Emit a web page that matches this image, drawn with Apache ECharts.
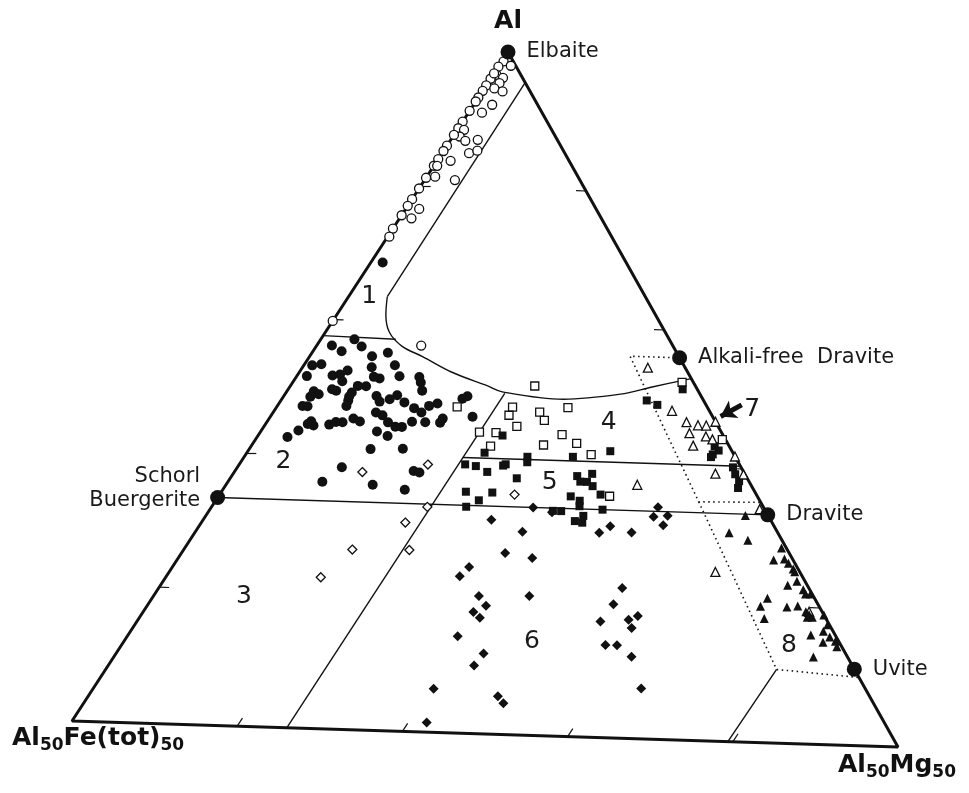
<!DOCTYPE html>
<html>
<head>
<meta charset="utf-8">
<script src="https://cdn.jsdelivr.net/npm/echarts/dist/echarts.min.js"></script>
<style>
    html, body { margin: 0; background: #fff; }
    #chart { width: 969px; height: 793px; }
</style>
</head>
<body>
<div id="chart"></div>
<script>
// every composition is [Al, Fe(tot), Mg], molar %, Al >= 50
var endMembers = ["Elbaite", "Alkali-free  Dravite", "Dravite", "Uvite", "Schorl\nBuergerite"];
var endMemberComp = [[100, 0, 0], [78, 0, 22], [66.7, 0, 33.3], [55.6, 0, 44.4], [66.7, 33.3, 0]];

var fieldNames = ["1", "2", "3", "4", "5", "6", "7", "8"];
var fieldLabelComp = [[81.8, 17.0, 1.2], [69.5, 28.0, 2.5], [59.5, 35.1, 5.4], [73.1, 6.6, 20.3],
    [68.6, 12.3, 19.1], [56.9, 18.9, 24.2], [74.4, -2.7, 28.3], [57.2, 3.2, 39.6]];

var sideTicks = [60, 70, 80, 90];   // Al on both sides
var baseTicks = [10, 20, 30, 40];   // Mg along the base

var openCircles = [[99.3, 0.6, 0.1], [99.0, 0.3, 0.7], [98.9, 1.1, 0], [98.3, 1.5, 0.2], [98.1, 1.2, 0.7],
    [98.0, 2.0, 0], [98.4, 1.6, 0], [97.7, 1.6, 0.7], [97.5, 2.5, 0], [97.3, 2.1, 0.6], [97.1, 1.7, 1.2],
    [97.1, 2.9, 0], [96.6, 3.4, 0], [95.5, 3.7, 0.8], [96.1, 2.8, 1.1], [96.3, 3.7, 0], [95.6, 4.4, 0],
    [94.8, 5.2, 0], [94.3, 5.7, 0], [94.2, 5.4, 0.4], [93.7, 5.9, 0.4], [93.4, 5.7, 0.9], [93.5, 4.9, 1.6],
    [93.8, 6.2, 0], [93.0, 7.0, 0], [92.6, 7.4, 0], [92.0, 8.0, 0], [91.5, 8.5, 0], [91.5, 8.3, 0.2],
    [91.9, 7.3, 0.8], [92.5, 5.9, 1.6], [92.7, 5.3, 2.0], [90.6, 9.4, 0], [90.7, 8.8, 0.5], [90.5, 7.7, 1.8],
    [89.8, 10.2, 0], [89.0, 11.0, 0], [88.5, 11.5, 0], [87.8, 12.2, 0], [87.6, 11.7, 0.7], [88.3, 10.9, 0.8],
    [86.8, 13.2, 0], [86.2, 13.7, 0.1], [79.9, 20.1, 0], [78.3, 15.5, 6.2]];

var filledCircles = [[84.3, 15.0, 0.7], [78.1, 21.0, 0.9], [77.7, 20.6, 1.7], [78.6, 19.4, 2.0], [78.1, 19.2, 2.7],
    [77.4, 18.9, 3.7], [77.7, 17.8, 4.5], [76.8, 17.8, 5.4], [76.0, 17.9, 6.1], [76.6, 22.9, 0.5],
    [76.7, 22.3, 1.0], [75.8, 23.6, 0.6], [75.9, 22.0, 2.1], [76.0, 21.5, 2.5], [76.3, 20.9, 2.8],
    [75.5, 21.6, 2.9], [76.6, 19.3, 4.1], [75.9, 19.5, 4.6], [75.8, 19.2, 5.0], [75.6, 16.8, 7.6],
    [75.0, 17.0, 8.0], [76.0, 16.7, 7.3], [75.2, 20.3, 4.5], [75.2, 20.8, 4.0], [74.7, 21.4, 3.9],
    [74.9, 22.5, 2.6], [74.8, 22.3, 2.9], [74.7, 23.7, 1.6], [74.5, 23.5, 2.0], [74.3, 24.1, 1.6],
    [73.6, 24.9, 1.5], [73.6, 24.6, 1.8], [74.1, 21.9, 4.0], [73.7, 22.2, 4.1], [74.4, 21.7, 3.9],
    [74.5, 20.0, 5.5], [74.1, 20.0, 5.9], [74.6, 18.7, 6.7], [74.3, 19.3, 6.4], [74.1, 18.5, 7.4],
    [73.3, 20.6, 6.1], [73.1, 20.3, 6.6], [72.6, 20.2, 7.2], [72.3, 19.9, 7.8], [72.3, 19.5, 8.2],
    [72.7, 18.7, 8.6], [73.7, 18.1, 8.2], [73.4, 17.8, 8.8], [73.9, 17.1, 9.0], [74.1, 16.5, 9.4],
    [72.7, 17.9, 9.4], [72.7, 17.0, 10.3], [73.0, 16.7, 10.3], [74.7, 14.4, 10.9], [74.5, 14.8, 10.7],
    [73.2, 14.8, 12.0], [72.5, 24.9, 2.6], [72.2, 24.9, 2.9], [72.3, 25.2, 2.5], [71.8, 26.0, 2.2],
    [71.3, 26.9, 1.8], [72.3, 23.9, 3.8], [72.5, 23.4, 4.1], [72.5, 23.0, 4.5], [72.8, 22.2, 5.0],
    [72.6, 21.9, 5.5], [71.9, 21.2, 6.9], [71.6, 20.7, 7.7], [70.6, 22.2, 7.2], [70.7, 20.2, 9.1],
    [69.2, 24.6, 6.2], [68.1, 26.3, 5.6], [68.0, 23.3, 8.7], [67.7, 21.5, 10.8], [69.1, 20.3, 10.6],
    [69.0, 20.0, 11.0]];

var openSquares = [[75.6, 9.9, 14.5], [74.1, 8.6, 17.3], [73.7, 10.5, 15.8], [73.1, 10.5, 16.4], [74.0, 12.0, 14.0],
    [72.6, 12.4, 15.0], [72.1, 14.9, 13.0], [72.1, 13.9, 14.0], [72.1, 9.9, 18.0], [71.3, 11.4, 17.3],
    [71.5, 9.3, 19.2], [70.7, 8.8, 20.5], [71.1, 14.7, 14.2], [67.7, 9.1, 23.2], [73.9, 15.4, 10.7],
    [72.1, 0.2, 27.7], [76.2, 0.7, 23.1], [73.4, 12.5, 14.1]];

var filledSquares = [[71.9, 13.6, 14.5], [70.6, 15.3, 14.1], [70.4, 12.8, 16.8], [70.0, 13.0, 17.0], [70.5, 10.0, 19.5],
    [71.0, 7.5, 21.5], [69.7, 16.9, 13.4], [69.6, 16.3, 14.1], [69.2, 15.8, 15.0], [69.7, 14.6, 15.7],
    [69.8, 14.4, 15.8], [68.8, 14.2, 17.0], [69.1, 10.4, 20.5], [68.7, 10.4, 20.9], [69.3, 9.4, 21.3],
    [68.7, 10.0, 21.3], [68.4, 9.8, 21.8], [67.8, 9.6, 22.6], [67.6, 11.5, 20.9], [67.3, 11.1, 21.6],
    [67.7, 17.8, 14.5], [67.1, 17.3, 15.6], [67.7, 16.2, 16.1], [66.6, 18.3, 15.1], [66.5, 12.6, 20.9],
    [66.5, 13.1, 20.4], [66.7, 10.0, 23.3], [65.8, 12.1, 22.1], [66.2, 11.4, 22.4], [65.7, 11.7, 22.6],
    [74.8, 3.5, 21.7], [74.5, 3.0, 22.5], [75.7, 0.9, 23.4], [71.6, 0.9, 27.5], [71.0, 1.3, 27.7],
    [70.8, 1.5, 27.7], [71.3, 0.8, 27.9], [70.1, 0.5, 29.4], [69.6, 0.6, 29.8], [69.1, 0.6, 30.3],
    [68.6, 0.9, 30.5], [66.9, 11.3, 21.8]];

var openDiamonds = [[68.9, 23.5, 7.6], [69.6, 19.2, 11.2], [66.5, 20.7, 12.8], [65.3, 22.6, 12.1],
    [63.3, 23.3, 13.4], [63.2, 26.8, 10.0], [61.1, 29.7, 9.2], [67.6, 14.9, 17.5]];

var filledDiamonds = [[65.7, 17.2, 17.1], [64.9, 15.7, 19.4], [66.7, 14.2, 19.1], [66.4, 13.2, 20.4], [65.0, 11.0, 24.0],
    [65.5, 10.1, 24.4], [65.1, 9.0, 25.9], [67.0, 6.5, 26.5], [66.4, 6.2, 27.4], [66.3, 7.1, 26.6],
    [65.7, 6.8, 27.5], [63.3, 17.5, 19.2], [63.0, 16.0, 21.0], [62.2, 20.2, 17.6], [61.5, 21.1, 17.4],
    [60.2, 17.5, 22.3], [60.1, 20.6, 19.3], [59.4, 20.5, 20.1], [58.9, 21.5, 19.6], [58.5, 21.3, 20.2],
    [57.1, 23.3, 19.6], [55.9, 22.3, 21.8], [55.0, 23.3, 21.7], [53.2, 26.6, 20.2], [52.8, 22.9, 24.3],
    [52.3, 22.8, 24.9], [50.7, 28.2, 21.1], [61.0, 11.5, 27.5], [59.8, 12.6, 27.6], [58.5, 14.0, 27.5],
    [58.7, 12.2, 29.1], [59.0, 11.5, 29.5], [58.1, 12.3, 29.6], [56.8, 14.5, 28.7], [56.8, 13.8, 29.4],
    [56.0, 13.3, 30.7], [53.7, 13.8, 32.5]];

var openTriangles = [[77.2, 2.3, 20.5], [74.1, 2.3, 23.6], [73.3, 1.8, 24.9], [73.1, 1.2, 25.7], [73.1, 0.7, 26.2],
    [73.4, 0, 26.6], [72.5, 2.0, 25.5], [72.3, 1.1, 26.6], [71.6, 2.2, 26.2], [72.1, 0.8, 27.1],
    [70.9, 0, 29.1], [69.6, 1.8, 28.6], [68.6, 7.0, 24.4], [69.6, 0.1, 30.3], [67.1, 0.3, 32.6],
    [62.4, 5.2, 32.4], [59.7, 0.8, 39.5]];

var filledTriangles = [[66.6, 1.4, 32.0], [65.3, 3.0, 31.7], [64.8, 2.1, 33.1], [64.3, 0.3, 35.4], [63.4, 1.2, 35.4],
    [63.5, 0.5, 36.0], [63.2, 0.4, 36.4], [62.8, 0.3, 36.9], [62.6, 0.3, 37.1], [61.6, 1.2, 37.2],
    [61.9, 0.5, 37.6], [61.3, 0.4, 38.3], [61.0, 0.4, 38.6], [61.0, 0.1, 38.9], [60.6, 2.9, 36.5],
    [60.0, 3.6, 36.4], [59.1, 3.8, 37.1], [60.0, 2.0, 38.0], [60.1, 1.3, 38.6], [59.7, 1.0, 39.3],
    [59.5, 0.9, 39.6], [59.3, 0.8, 39.9], [59.3, 1.1, 39.6], [59.5, 0, 40.5], [58.8, 0.1, 41.1],
    [58.3, 0.6, 41.1], [57.9, 0.4, 41.7], [57.5, 1.0, 41.5], [57.6, 0.2, 42.2], [57.2, 0.3, 42.5],
    [58.0, 1.5, 40.5], [56.4, 2.1, 41.5]];

// field boundaries
var field1Line = [[97.8, 0, 2.2], [81.8, 15.9, 2.3]];
var field1Curve = [[81.8, 15.9, 2.3], [80.5, 16.6, 2.9], [79.2, 17.0, 3.8], [78.2, 16.7, 5.1], [77.5, 15.8, 6.7],
    [76.4, 14.5, 9.1], [75.5, 12.8, 11.7], [75.1, 12.1, 12.8], [74.7, 8.6, 16.7], [75.2, 4.9, 19.9],
    [75.8, 2.7, 21.5], [76.5, 0, 23.5]];
var line12 = [[78.8, 21.2, 0], [78.7, 16.85, 4.45]];
var lineMg13 = [[75.0, 12.0, 13.0], [50, 37, 13]];
var line45 = [[70.2, 16.8, 13], [70.2, 0, 29.8]];
var schorlDravite = [[66.7, 33.3, 0], [66.7, 0, 33.3]];
var field7Dots = [[78, 0, 22], [78, 3, 19], [67.5, 3.8, 28.7], [67.6, 0, 32.4]];
var field8Dots = [[67.5, 3.8, 28.7], [55.4, 4.8, 39.8], [55, 0, 45]];
var line8Base = [[55.4, 4.8, 39.8], [50, 10.3, 39.7]];
var arrow7 = [[74.7, -2.2, 27.5], [73.8, -0.5, 26.7]];

// where the three corners sit on the page
var CORNER_AL = [508, 52], CORNER_FE = [72, 721], CORNER_MG = [898, 747];
var INK = "#111";
var FONT = "DejaVu Sans";

function tern(p) {
    var s = p[0] + p[1] + p[2];
    var a = (p[0] * 100 / s - 50) / 50, f = p[1] * 2 / s, m = p[2] * 2 / s;
    return [a * CORNER_AL[0] + f * CORNER_FE[0] + m * CORNER_MG[0],
            a * CORNER_AL[1] + f * CORNER_FE[1] + m * CORNER_MG[1]];
}

function path(name, pts, width, extra) {
    var s = {
        type: "line", name: name, data: pts.map(tern), symbol: "none", silent: true, z: 2,
        lineStyle: { color: INK, width: width }
    };
    for (var k in extra) s[k] = extra[k];
    return s;
}

function marks(name, pts, symbol, size, hollow) {
    return {
        type: "scatter", name: name, data: pts.map(tern), symbol: symbol, symbolSize: size, z: 5, silent: true,
        itemStyle: hollow ? { color: "#fff", borderColor: INK, borderWidth: 1.3, opacity: 1 } : { color: INK, opacity: 1 }
    };
}

var tickSegs = [];
sideTicks.forEach(function (al) {
    tickSegs.push({ coords: [tern([al, 100 - al, 0]), tern([al, 100 - al - 0.6, 0.6])] });
    tickSegs.push({ coords: [tern([al, 0, 100 - al]), tern([al, 0.6, 100 - al - 0.6])] });
});
baseTicks.forEach(function (mg) {
    tickSegs.push({ coords: [tern([50, 50 - mg, mg]), tern([50.6, 50 - mg - 0.6, mg])] });
});

var option = {
    backgroundColor: "#fff",
    animation: false,
    grid: { left: 0, right: 0, top: 0, bottom: 0 },
    xAxis: { type: "value", min: 0, max: 969, show: false },
    yAxis: { type: "value", min: 0, max: 793, inverse: true, show: false },
    series: [
        path("edges", [[100, 0, 0], [50, 50, 0], [50, 0, 50], [100, 0, 0]], 3),
        path("field1Line", field1Line, 1.4),
        path("field1Curve", field1Curve, 1.4, { smooth: 0.35 }),
        path("line12", line12, 1.4),
        path("lineMg13", lineMg13, 1.4),
        path("line45", line45, 1.4),
        path("schorlDravite", schorlDravite, 1.4),
        path("line8Base", line8Base, 1.4),
        path("field7", field7Dots, 1.6, { lineStyle: { color: INK, width: 1.6, type: [1.5, 3.5] } }),
        path("field8", field8Dots, 1.6, { lineStyle: { color: INK, width: 1.6, type: [1.5, 3.5] } }),
        {
            type: "lines", coordinateSystem: "cartesian2d", silent: true, z: 2,
            lineStyle: { color: INK, width: 1.2, opacity: 1 }, data: tickSegs
        },
        {
            type: "lines", coordinateSystem: "cartesian2d", silent: true, z: 3,
            symbol: ["none", "arrow"], symbolSize: 15,
            lineStyle: { color: INK, width: 5, opacity: 1 },
            data: [{ coords: arrow7.map(tern) }]
        },
        marks("openCircles", openCircles, "circle", 9, true),
        marks("filledCircles", filledCircles, "circle", 10, false),
        marks("openSquares", openSquares, "rect", 8, true),
        marks("filledSquares", filledSquares, "rect", 8, false),
        marks("openDiamonds", openDiamonds, "diamond", 9, true),
        marks("filledDiamonds", filledDiamonds, "diamond", 10, false),
        marks("openTriangles", openTriangles, "triangle", 9, true),
        marks("filledTriangles", filledTriangles, "triangle", 9, false),
        {
            type: "scatter", name: "endMembers", symbol: "circle", symbolSize: 15, z: 6, silent: true,
            itemStyle: { color: INK, opacity: 1 },
            data: endMembers.map(function (n, i) {
                var d = { name: n, value: tern(endMemberComp[i]) };
                if (i == 4) d.label = { position: "left", align: "right", distance: 10, offset: [0, -9] };
                return d;
            }),
            label: {
                show: true, position: "right", distance: 11, formatter: "{b}",
                fontFamily: FONT, fontSize: 21, lineHeight: 24, color: "#1a1a1a"
            }
        },
        {
            type: "scatter", name: "fields", symbolSize: 1, z: 7, silent: true,
            itemStyle: { color: "rgba(0,0,0,0)", opacity: 1 },
            data: fieldNames.map(function (n, i) { return { name: n, value: tern(fieldLabelComp[i]) }; }),
            label: {
                show: true, position: "inside", formatter: "{b}",
                fontFamily: FONT, fontSize: 25, color: "#1a1a1a"
            }
        },
        {
            type: "scatter", name: "corners", symbolSize: 0, z: 7, silent: true,
            itemStyle: { opacity: 1 },
            data: [
                { value: tern([100, 0, 0]), label: { position: "top", distance: 18, formatter: "{m|Al}" } },
                { value: tern([50, 50, 0]), label: { position: [-60, 2], align: "left", verticalAlign: "top", formatter: "{m|Al}{s|50}{m|Fe(tot)}{s|50}" } },
                { value: tern([50, 0, 50]), label: { position: [-60, 3], align: "left", verticalAlign: "top", formatter: "{m|Al}{s|50}{m|Mg}{s|50}" } }
            ],
            label: {
                show: true,
                rich: {
                    m: { fontFamily: FONT, fontWeight: "bold", fontSize: 25, color: "#111" },
                    s: { fontFamily: FONT, fontWeight: "bold", fontSize: 17, color: "#111", padding: [14, 0, 0, 0] }
                }
            }
        }
    ]
};

var chart = echarts.init(document.getElementById("chart"));
chart.setOption(option);
</script>
</body>
</html>
